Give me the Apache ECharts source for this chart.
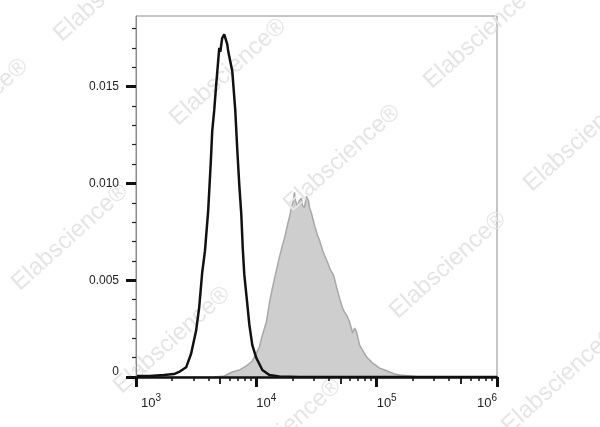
<!DOCTYPE html>
<html><head><meta charset="utf-8">
<script src="https://cdn.jsdelivr.net/npm/echarts@6/dist/echarts.min.js"></script>
<style>html,body{margin:0;padding:0;background:#fff}#c{width:600px;height:427px}</style>
</head><body><div id="c"></div>
<script>
// Unstained control (black outline)
const blackX = [1000, 1300, 1700, 2070, 2280, 2610, 2870, 3160, 3350, 3550, 3740, 3980, 4190, 4300, 4470, 4610, 4920, 5020, 5200, 5410, 5560, 5730, 5850, 5960, 6310, 6680, 6950, 7220, 7500, 7720, 7940, 8340, 8750, 9260, 10000, 11220, 12830, 15540, 22800, 1000000];
const blackY = [0.00005, 0.00005, 0.0001, 0.00015, 0.00026, 0.0005, 0.0012, 0.0024, 0.0036, 0.0054, 0.0065, 0.0086, 0.0112, 0.0127, 0.0138, 0.0149, 0.0170, 0.0168, 0.0175, 0.0177, 0.0176, 0.0172, 0.0168, 0.0169, 0.0158, 0.0138, 0.0117, 0.0099, 0.0084, 0.0066, 0.0053, 0.0040, 0.0027, 0.00165, 0.00098, 0.00036, 0.0001, 0.00003, 0, 0];
// Stained sample (gray filled)
const grayX = [4470, 5410, 6310, 7220, 8250, 9260, 10000, 10590, 11220, 12120, 12830, 13590, 14680, 15550, 16470, 17110, 18130, 18840, 19570, 20340, 20730, 21140, 21960, 22820, 23710, 24170, 25120, 26100, 27120, 27650, 28730, 30430, 32240, 33500, 35480, 36870, 39060, 41370, 43830, 46420, 49170, 52090, 54120, 56230, 59570, 63100, 65580, 68130, 72160, 76430, 82540, 87440, 92600, 100000, 105900, 116600, 128300, 141300, 155500, 188400, 228200];
const grayY = [0, 0.00005, 0.00026, 0.00036, 0.00057, 0.00082, 0.00124, 0.00155, 0.00216, 0.00284, 0.00381, 0.00459, 0.00552, 0.00619, 0.00680, 0.00716, 0.00784, 0.00825, 0.00876, 0.00912, 0.00954, 0.00912, 0.00881, 0.00912, 0.00923, 0.00887, 0.00876, 0.00933, 0.00912, 0.00876, 0.00845, 0.00784, 0.00732, 0.00706, 0.00655, 0.00629, 0.00593, 0.00552, 0.00526, 0.00464, 0.00407, 0.00356, 0.00335, 0.00320, 0.00284, 0.00227, 0.00253, 0.00232, 0.00165, 0.00139, 0.00103, 0.00088, 0.00072, 0.00057, 0.00046, 0.00036, 0.00026, 0.00015, 0.0001, 0.00005, 0];

const xMajorTicks = [1000, 10000, 100000, 1000000];
const xMidTicks = [5000, 50000, 500000];
const xMinorTicks = [2000, 3000, 4000, 6000, 7000, 8000, 9000, 20000, 30000, 40000, 60000, 70000, 80000, 90000, 200000, 300000, 400000, 600000, 700000, 800000, 900000];
const yMajorTicks = [0, 0.005, 0.010, 0.015];
const yMinorTicks = [0.001, 0.002, 0.003, 0.004, 0.006, 0.007, 0.008, 0.009, 0.011, 0.012, 0.013, 0.014, 0.016, 0.017, 0.018];
const watermarkText = 'Elabscience®';

const FONT = '"Liberation Sans", Arial, sans-serif';
const XMIN = 1000, XMAX = 1000000, YMAX = 0.01865;

function pairs(xs, ys) { return xs.map((x, i) => [x, ys[i]]); }

const wmPos = [[228,72],[482,35],[342,158],[582,138],[70,237],[172,340],[448,265],[283,432],[560,380],[112,-12],[-30,112]];

const chart = echarts.init(document.getElementById('c'), null, {renderer: 'canvas'});
const option = {
  animation: false,
  backgroundColor: '#ffffff',
  grid: {left: 136, right: 103, top: 16, bottom: 50, show: true, borderColor: '#8c8c8c', borderWidth: 1, backgroundColor: 'transparent'},
  xAxis: [
    {
      type: 'log', logBase: 10, min: XMIN, max: XMAX, position: 'bottom', z: 10,
      axisLine: {show: true, lineStyle: {color: '#111', width: 2.5}},
      axisTick: {show: true, customValues: xMajorTicks, length: 10, lineStyle: {color: '#111', width: 3}},
      splitLine: {show: false},
      axisLabel: {
        show: true, customValues: xMajorTicks, margin: 16, align: 'center',
        formatter: function (v) {
          const e = Math.round(Math.log10(v));
          if (e === 6) return '{a|10}{s|6}{sp|}';
          if (e === 3) return '{sp3|}{a|10}{s|3}';
          return '{sp|}{a|10}{s|' + e + '}';
        },
        rich: {
          a: {fontSize: 13, fontFamily: FONT, color: '#222'},
          s: {fontSize: 10, fontFamily: FONT, color: '#222', padding: [0, 0, 10, 0]},
          sp: {width: 20},
          sp3: {width: 30}
        }
      }
    },
    {
      type: 'log', logBase: 10, min: XMIN, max: XMAX, position: 'bottom', z: 10,
      axisLine: {show: false}, axisLabel: {show: false}, splitLine: {show: false},
      axisTick: {show: true, customValues: xMinorTicks, length: 4, lineStyle: {color: '#111', width: 1.5}}
    },
    {
      type: 'log', logBase: 10, min: XMIN, max: XMAX, position: 'bottom', z: 10,
      axisLine: {show: false}, axisLabel: {show: false}, splitLine: {show: false},
      axisTick: {show: true, customValues: xMidTicks, length: 7, lineStyle: {color: '#111', width: 1.8}}
    }
  ],
  yAxis: [
    {
      type: 'value', min: 0, max: YMAX, position: 'left', z: 10,
      axisLine: {show: true, lineStyle: {color: '#8c8c8c', width: 1}},
      axisTick: {show: true, customValues: yMajorTicks, length: 10, lineStyle: {color: '#111', width: 3}},
      splitLine: {show: false},
      axisLabel: {
        show: true, customValues: yMajorTicks, margin: 17, fontSize: 12, fontFamily: FONT, color: '#222',
        formatter: function (v) { return v === 0 ? '{z|0}' : v.toFixed(3); },
        rich: {z: {fontSize: 12, fontFamily: FONT, color: '#222', padding: [0, 0, 10, 0]}}
      }
    },
    {
      type: 'value', min: 0, max: YMAX, position: 'left', z: 10,
      axisLine: {show: false}, axisLabel: {show: false}, splitLine: {show: false},
      axisTick: {show: true, customValues: yMinorTicks, length: 4, lineStyle: {color: '#222', width: 1.2}}
    }
  ],
  graphic: wmPos.map(p => ({
    type: 'text', x: p[0], y: p[1], rotation: 42 * Math.PI / 180, z: 3, silent: true,
    style: {text: watermarkText, font: '24px ' + FONT, fill: '#e5e5e5', align: 'center', verticalAlign: 'middle'}
  })),
  series: [
    {
      type: 'line', name: 'Stained', xAxisIndex: 0, yAxisIndex: 0, z: 1,
      data: pairs(grayX, grayY), showSymbol: false, smooth: false,
      lineStyle: {color: '#a8a8a8', width: 1.5},
      areaStyle: {color: '#cecece', opacity: 1}
    },
    {
      type: 'line', name: 'Control', xAxisIndex: 0, yAxisIndex: 0, z: 6,
      data: pairs(blackX, blackY), showSymbol: false, smooth: false,
      lineStyle: {color: '#111', width: 2.5}
    }
  ]
};
chart.setOption(option);
</script>
</body></html>
